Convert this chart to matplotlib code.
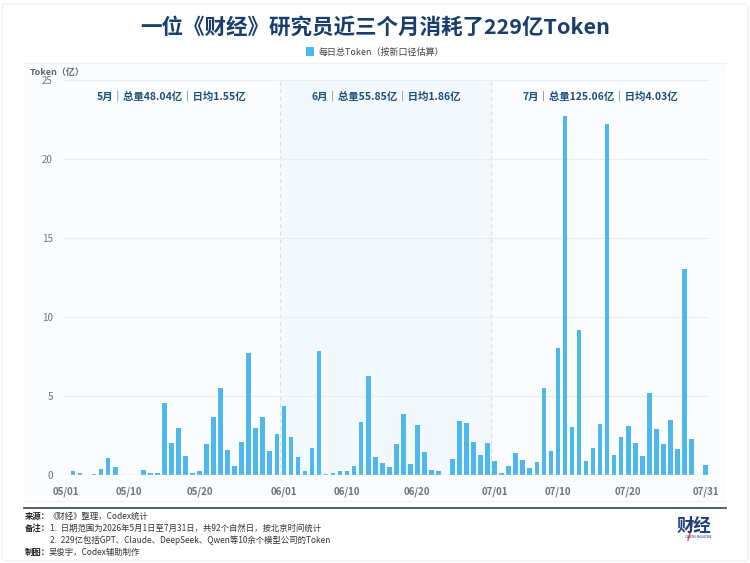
import matplotlib
matplotlib.use("Agg")
import matplotlib.pyplot as plt
from matplotlib.patches import Rectangle, FancyBboxPatch
from matplotlib.lines import Line2D
import numpy as np
import pandas as pd

plt.rcParams['font.family'] = ['Noto Sans CJK SC', 'DejaVu Sans']

# ---------------- data ----------------
dates = pd.date_range("2026-05-01", "2026-07-31", freq="D")

may_values = [0.00, 0.23, 0.10, 0.00, 0.08, 0.38, 1.10, 0.49, 0.00, 0.00,
              0.00, 0.32, 0.13, 0.13, 4.56, 2.00, 2.95, 1.20, 0.13, 0.25,
              1.96, 3.67, 5.50, 1.56, 0.57, 2.11, 7.72, 2.97, 3.65, 1.52,
              2.62]
june_values = [4.39, 2.43, 1.16, 0.23, 1.73, 7.85, 0.08, 0.15, 0.25, 0.23,
               0.59, 3.35, 6.27, 1.12, 0.74, 0.53, 1.96, 3.88, 0.70, 3.16,
               1.43, 0.30, 0.25, 0.00, 1.03, 3.42, 3.27, 2.11, 1.27, 2.03]
july_values = [0.89, 0.10, 0.59, 1.39, 0.93, 0.46, 0.82, 5.51, 1.52, 8.02,
               22.74, 3.06, 9.20, 0.89, 1.69, 3.21, 22.20, 1.29, 2.38, 3.12,
               2.05, 1.18, 5.17, 2.89, 1.94, 3.46, 1.67, 13.04, 2.26, 0.02,
               0.61]

month_labels = ["5月｜总量48.04亿｜日均1.55亿",
                "6月｜总量55.85亿｜日均1.86亿",
                "7月｜总量125.06亿｜日均4.03亿"]

tick_labels = ["05/01", "05/10", "05/20", "06/01", "06/10",
               "06/20", "07/01", "07/10", "07/20", "07/31"]
y_ticks = [0, 5, 10, 15, 20, 25]

title = "一位《财经》研究员近三个月消耗了229亿Token"
legend_label = "每日总Token（按新口径估算）"
y_unit = "Token（亿）"

# ---------------- figure ----------------
W, H = 750, 563
fig = plt.figure(figsize=(W / 100, H / 100), dpi=100)
fig.patch.set_facecolor("white")

def fx(px):
    return px / W

def fy(py):
    return 1 - py / H

# card border
fig.patches.append(FancyBboxPatch((fx(2), fy(561)), fx(746), 557 / H,
                                  boxstyle="round,pad=0,rounding_size=0.006",
                                  transform=fig.transFigure, facecolor="white",
                                  edgecolor="#eceef1", linewidth=0.8, zorder=-3))
# inner panel
fig.patches.append(Rectangle((fx(24), fy(501)), fx(702), (501 - 63) / H,
                             transform=fig.transFigure, facecolor="#fbfcfe",
                             edgecolor="none", zorder=-2))
fig.lines.append(Line2D([fx(24), fx(726)], [fy(63), fy(63)],
                        transform=fig.transFigure, color="#edf0f4", lw=0.8,
                        zorder=-1))
fig.lines.append(Line2D([fx(24), fx(726)], [fy(501), fy(501)],
                        transform=fig.transFigure, color="#eef1f5", lw=0.8,
                        zorder=-1))
fig.lines.append(Line2D([fx(24), fx(726)], [fy(507.5), fy(507.5)],
                        transform=fig.transFigure, color="#4a5260", lw=1.3))

# axes
ax = fig.add_axes([fx(62.5), fy(475), fx(709 - 62.5), (475 - 80) / H])
ax.set_facecolor("none")
ax.set_zorder(1)

values = np.array(may_values + june_values + july_values)
x = np.arange(len(dates))

n_may, n_jun = len(may_values), len(june_values)
ax.axvspan(n_may - 0.5, n_may + n_jun - 0.5, color="#f3f8fc", zorder=0)
for xv in (n_may - 0.5, n_may + n_jun - 0.5):
    ax.axvline(xv, color="#d3dfea", lw=0.9, ls=(0, (3, 3)), zorder=0.5)

for yv in y_ticks[1:]:
    ax.axhline(yv, color="#e8edf3", lw=0.8, zorder=0.6)
ax.axhline(0, color="#c9d3de", lw=1.0, zorder=3)

bars = ax.bar(x, values, width=0.66, color="#4db8ec", edgecolor="none",
              zorder=2, label=legend_label)

ax.set_xlim(-0.5, len(dates) - 0.5)
ax.set_ylim(0, 25)

tick_pos = [list(dates.strftime("%m/%d")).index(t) for t in tick_labels]
ax.set_xticks(tick_pos)
ax.set_xticklabels(tick_labels, fontsize=7, color="#6b7380", fontweight="bold")
ax.set_yticks(y_ticks)
ax.set_yticklabels([str(v) for v in y_ticks], fontsize=7, color="#6b7380",
                   fontweight="medium")
ax.tick_params(axis="both", length=0)
ax.tick_params(axis="x", pad=8)
ax.tick_params(axis="y", pad=7)
for s in ax.spines.values():
    s.set_visible(False)

# month annotations
spans = [(0, n_may), (n_may, n_may + n_jun), (n_may + n_jun, len(dates))]
for (a, b), lab in zip(spans, month_labels):
    ax.text((a + b - 1) / 2, 0.957, lab, transform=ax.get_xaxis_transform(),
            ha="center", va="center", fontsize=7.5, fontweight="bold",
            color="#1f4d7a")

# title & legend
fig.text(0.5, fy(27), title, ha="center", va="center", fontsize=15.5,
         fontweight="bold", color="#183e6b")
fig.legend(handles=[bars], labels=[legend_label], loc="center",
           bbox_to_anchor=(0.5, fy(52)), frameon=False, fontsize=6.5,
           handlelength=0.9, handleheight=1.0, handletextpad=0.5,
           labelcolor="#444444")
fig.text(fx(30), fy(72), y_unit, ha="left", va="center", fontsize=6.5,
         fontweight="bold", color="#5f6670")

# footer
fc = "#333333"
fig.text(fx(25), fy(516), "来源：", ha="left", va="center", fontsize=6,
         fontweight="bold", color="#222222")
fig.text(fx(49), fy(516), "《财经》整理，Codex统计", ha="left", va="center",
         fontsize=6, color=fc)
fig.text(fx(25), fy(528), "备注：", ha="left", va="center", fontsize=6,
         fontweight="bold", color="#222222")
fig.text(fx(50), fy(528), "1.  日期范围为2026年5月1日至7月31日，共92个自然日，按北京时间统计",
         ha="left", va="center", fontsize=6, color=fc)
fig.text(fx(50), fy(540), "2.  229亿包括GPT、Claude、DeepSeek、Qwen等10余个模型公司的Token",
         ha="left", va="center", fontsize=6, color=fc)
fig.text(fx(25), fy(552), "制图：", ha="left", va="center", fontsize=6,
         fontweight="bold", color="#222222")
fig.text(fx(49), fy(552), "吴俊宇，Codex辅助制作", ha="left", va="center",
         fontsize=6, color=fc)

# logo
fig.text(fx(694), fy(526), "财经", ha="center", va="center", fontsize=12.5,
         fontweight="bold", color="#1d3f7a")
fig.lines.append(Line2D([fx(688), fx(693)], [fy(540), fy(522)],
                        transform=fig.transFigure, color="#e8603c", lw=1.2))
fig.text(fx(698), fy(537), "CAIJING MAGAZINE", ha="center", va="center",
         fontsize=2.2, color="#1d3f7a")

fig.savefig("out.png", dpi=100)
